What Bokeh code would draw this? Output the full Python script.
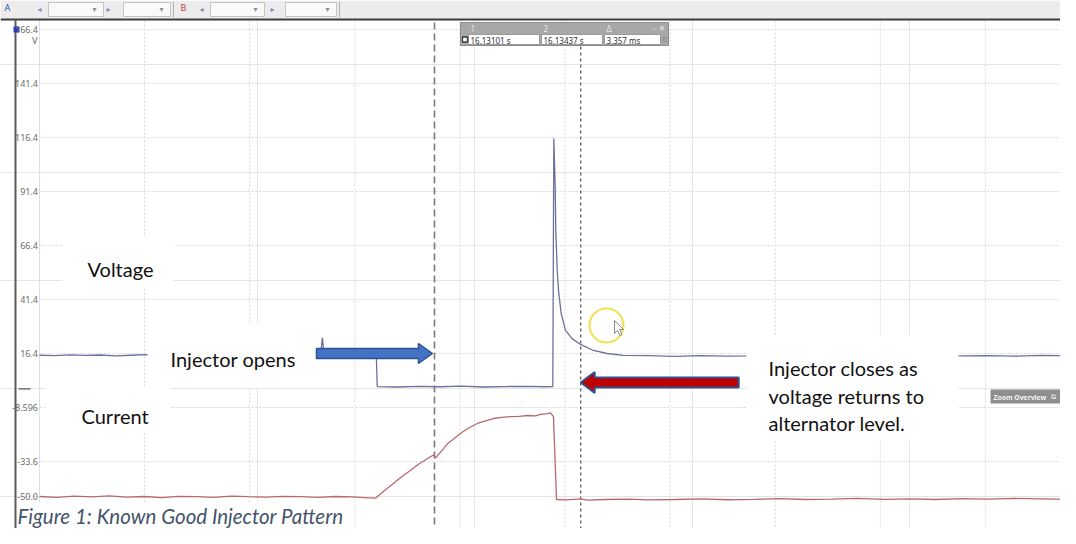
from bokeh.plotting import figure
from bokeh.models import Range1d, Label, ColumnDataSource
from bokeh.core.properties import value
from bokeh.embed import file_html
from bokeh.resources import INLINE

# ---------------- data ----------------
cursor_times_s = [16.13101, 16.13437]
cursor_labels = ["1", "2", "\u0394"]
cursor_texts = ["16.13101 s", "16.13437 s", "3.357 ms"]
grid0_s = 16.121934          # time at first vertical grid line
ms_per_div = 2.415
n_divs = 10

y_tick_values = [166.4, 141.4, 116.4, 91.4, 66.4, 41.4, 16.4, -8.596, -33.6, -50.0]
y_tick_labels = ["166.4", "141.4", "116.4", "91.4", "66.4", "41.4", "16.4", "-8.596", "-33.6", "-50.0"]
grid_y_values = y_tick_values[:-1]
zero_marker = 0.0

voltage_t = [0.00, 0.35, 0.70, 1.05, 1.40, 1.75, 2.10, 2.45, 2.80, 3.15, 3.50, 3.85, 4.20,
             4.55, 4.90, 5.25, 5.60, 5.95, 6.30, 6.46, 6.50, 6.54, 6.70, 7.05, 7.40, 7.74,
             7.76, 8.20, 8.70, 9.20, 9.70, 10.20, 10.70, 11.20, 11.60, 11.795,
             11.818, 11.850, 11.863, 11.896, 11.932, 11.988, 12.086, 12.240, 12.431,
             12.730, 13.045, 13.419, 14.0, 14.6, 15.2, 15.8, 16.4, 17.0, 17.6, 18.2,
             18.8, 19.4, 20.0, 20.6, 21.2, 21.8, 22.4, 23.0, 23.6, 23.9]
voltage_v = [15.6, 15.4, 15.8, 15.5, 15.7, 15.3, 15.6, 15.9, 15.5, 15.4, 15.7, 15.6, 15.3,
             15.7, 15.8, 15.5, 15.6, 15.4, 15.7, 15.6, 23.8, 15.7, 15.5, 15.8, 15.6, 15.5,
             1.1, 0.9, 1.2, 1.0, 1.3, 0.9, 1.1, 1.2, 1.0, 1.1,
             115.9, 93.4, 73.3, 54.8, 44.2, 34.9, 27.1, 23.3, 20.6,
             17.8, 16.4, 15.5, 15.4, 15.1, 15.4, 15.2, 15.3, 15.5, 15.2, 15.3,
             15.4, 15.2, 15.3, 15.5, 15.3, 15.4, 15.2, 15.5, 15.4, 15.3]

current_t = [0.00, 0.40, 0.80, 1.20, 1.60, 2.00, 2.40, 2.80, 3.20, 3.60, 4.00, 4.40, 4.80,
             5.20, 5.60, 6.00, 6.40, 6.80, 7.20, 7.55, 7.72, 7.90, 8.13, 8.30, 8.52, 8.70,
             8.92, 9.05, 9.10, 9.21, 9.38, 9.50, 9.67, 9.85, 10.06, 10.25, 10.43, 10.62,
             10.82, 11.02, 11.21, 11.40, 11.51, 11.67, 11.74, 11.79, 11.81, 11.88, 12.10,
             12.43, 12.60, 13.00, 13.50, 14.00, 14.60, 15.20, 15.80, 16.40, 17.00, 17.60,
             18.20, 18.80, 19.40, 20.00, 20.60, 21.20, 21.80, 22.40, 23.00, 23.60, 23.90]
current_v = [-49.8, -50.2, -49.6, -50.0, -49.5, -50.1, -49.8, -50.3, -49.7, -49.9, -50.2,
             -49.6, -49.9, -50.1, -49.7, -49.9, -50.2, -49.8, -50.0, -50.4, -50.6, -47.5,
             -43.8, -41.0, -37.8, -35.0, -32.2, -30.6, -32.0, -29.4, -25.3, -23.4, -20.6,
             -18.2, -16.0, -14.8, -13.7, -13.2, -12.8, -12.7, -12.3, -12.5, -11.8, -11.4,
             -11.1, -12.3, -12.8, -51.2, -51.4, -50.9, -51.5, -51.2, -51.0, -51.4, -51.2,
             -50.9, -51.3, -51.1, -50.8, -51.2, -51.0, -50.7, -51.1, -50.9, -51.2, -50.8,
             -51.0, -50.7, -50.9, -51.1, -50.8]

# ---------------- layout helpers ----------------
W, H = 1060, 528
PX_PER_MS = 105.1 / ms_per_div
PX_PER_V = 54.0 / (y_tick_values[0] - y_tick_values[1])
OX, OY = 0, 0  # picture offset of the figure


def rx(px):
    return (px - 39.0) / PX_PER_MS


def ry(py):
    return y_tick_values[0] - (py - 29.0) / PX_PER_V


p = figure(width=W, height=H, output_backend="svg", toolbar_location=None,
           x_range=Range1d(rx(OX), rx(OX + W)), y_range=Range1d(ry(OY + H), ry(OY)),
           x_axis_location=None, y_axis_location=None, min_border=0)
p.outline_line_color = None
p.background_fill_color = "white"
p.border_fill_color = "white"

# grid
grid_x = [k * ms_per_div for k in range(n_divs)]
p.segment(x0=grid_x, y0=[ry(20)] * len(grid_x), x1=grid_x, y1=[ry(544)] * len(grid_x),
          line_color="#d6d6d6", line_width=1, line_dash="2 2")
p.segment(x0=[0.0] * len(grid_y_values), y0=grid_y_values,
          x1=[rx(1076)] * len(grid_y_values), y1=grid_y_values,
          line_color="#d6d6d6", line_width=1, line_dash="2 2")

# cursors
cursor_t = [(c - grid0_s) * 1000.0 for c in cursor_times_s]
p.segment(x0=[cursor_t[0]], y0=[ry(22)], x1=[cursor_t[0]], y1=[ry(544)],
          line_color="#7a7a7a", line_width=1.6, line_dash="7 4")
p.segment(x0=[cursor_t[1]], y0=[ry(46)], x1=[cursor_t[1]], y1=[ry(544)],
          line_color="#5e5e5e", line_width=1.3, line_dash="3 3")

# traces
p.line(current_t, current_v, line_color="#b8686c", line_width=1.3)
p.line(voltage_t, voltage_v, line_color="#6d6f9f", line_width=1.3)

# white text boxes
boxes = [(62, 173, 236, 287), (147, 316, 323, 387), (45, 170, 387, 432),
         (746, 958, 335, 440), (16, 352, 502, 531)]
p.quad(left=[rx(b[0]) for b in boxes], right=[rx(b[1]) for b in boxes],
       top=[ry(b[2]) for b in boxes], bottom=[ry(b[3]) for b in boxes],
       fill_color="white", line_color=None)

# left border, top toolbar
p.quad(left=[rx(0)], right=[rx(1076)], top=[ry(0)], bottom=[ry(18)],
       fill_color="#ececec", line_color=None)
p.segment(x0=[rx(0)], y0=[ry(19)], x1=[rx(1076)], y1=[ry(19)],
          line_color="#3c3c3c", line_width=2)
p.segment(x0=[rx(15)], y0=[ry(19)], x1=[rx(15)], y1=[ry(544)],
          line_color="#5a5a5a", line_width=2)
drops = [(48, 103), (123, 170), (210, 264), (285, 336)]
p.quad(left=[rx(d[0]) for d in drops], right=[rx(d[1]) for d in drops],
       top=[ry(2)] * 4, bottom=[ry(16)] * 4, fill_color="#f9f9f9", line_color="#c4c4c4")
p.segment(x0=[rx(173), rx(339)], y0=[ry(1)] * 2, x1=[rx(173), rx(339)], y1=[ry(17)] * 2,
          line_color="#b0b0b0", line_width=1)

# channel marker
p.quad(left=[rx(13)], right=[rx(19)], top=[ry(26)], bottom=[ry(32)],
       fill_color="#2a3fc4", line_color=None)

# tick labels
src = ColumnDataSource(dict(x=[rx(37.5)] * len(y_tick_values), y=y_tick_values, t=y_tick_labels))
p.text(x="x", y="y", text="t", source=src, text_align="right", text_baseline="middle",
       text_font=value("Noto Sans"), text_font_size="9px", text_color="#6a6a6a")
p.add_layout(Label(x=rx(37), y=ry(40), text="V", text_align="right", text_baseline="middle",
                   text_font="Noto Sans", text_font_size="9px", text_color="#6a6a6a"))
p.segment(x0=[rx(18)], y0=[zero_marker], x1=[rx(30)], y1=[zero_marker],
          line_color="#555555", line_width=1.2)

# arrows
def block_arrow(tip_x, tip_y, direction, shaft_len, shaft_h, head_len, head_h):
    s = direction / PX_PER_MS
    v = 1.0 / PX_PER_V
    xs = [tip_x, tip_x - s * head_len, tip_x - s * head_len, tip_x - s * (head_len + shaft_len),
          tip_x - s * (head_len + shaft_len), tip_x - s * head_len, tip_x - s * head_len]
    ys = [tip_y, tip_y + v * head_h, tip_y + v * shaft_h, tip_y + v * shaft_h,
          tip_y - v * shaft_h, tip_y - v * shaft_h, tip_y - v * head_h]
    return xs, ys


bx, by = block_arrow(cursor_t[0] - 2 / PX_PER_MS, y_tick_values[6], 1, 102, 5, 14, 10)
p.patch(bx, by, fill_color="#4472c4", line_color="#2f528f", line_width=1.5)
rxs, rys = block_arrow(cursor_t[1], ry(382), -1, 144, 5, 14, 10.5)
p.patch(rxs, rys, fill_color="#c00000", line_color="#2f528f", line_width=2)

# mouse highlight
p.scatter(x=[rx(606)], y=[ry(325)], size=34, marker="circle", fill_color=None,
          line_color="#f0e35a", line_width=2.2)
ptr = [(614, 320), (614, 333), (617, 330), (619.5, 335), (621.5, 334), (619, 329), (623, 329)]
p.patch([rx(a) for a, b in ptr], [ry(b) for a, b in ptr], fill_color="white",
        line_color="#8a8a8a", line_width=1)

# zoom overview tab
p.quad(left=[rx(990)], right=[rx(1076)], top=[ry(389)], bottom=[ry(403)],
       fill_color="#8e8e8e", line_color=None)
p.add_layout(Label(x=rx(993), y=ry(396.5), text="Zoom Overview", text_baseline="middle",
                   text_font="Noto Sans", text_font_size="6.8px", text_font_style="bold",
                   text_color="#f4f4f4"))
p.add_layout(Label(x=rx(1050), y=ry(396.5), text="\u29c9", text_baseline="middle",
                   text_font="DejaVu Sans", text_font_size="7px", text_color="#f4f4f4"))

# cursor readout box
p.quad(left=[rx(460)], right=[rx(668)], top=[ry(22)], bottom=[ry(45)],
       fill_color="#a8a8a8", line_color="#8c8c8c")
cells = [(468, 539), (541, 602), (604, 660)]
p.quad(left=[rx(c[0]) for c in cells], right=[rx(c[1]) for c in cells],
       top=[ry(34)] * 3, bottom=[ry(44)] * 3, fill_color="white", line_color="#9a9a9a")
p.quad(left=[rx(462)], right=[rx(467)], top=[ry(36.5)], bottom=[ry(41.5)],
       fill_color="white", line_color="#3a3a3a", line_width=1.3)
for (c0, c1), lab, txt in zip(cells, cursor_labels, cursor_texts):
    p.add_layout(Label(x=rx(c0 + 2), y=ry(28), text=lab, text_baseline="middle",
                       text_font="Noto Sans", text_font_size="8px", text_color="#e6e6e6"))
    p.add_layout(Label(x=rx(c0 + 2), y=ry(39.5), text=txt, text_baseline="middle",
                       text_font="Noto Sans", text_font_size="8px", text_color="#333333"))
p.add_layout(Label(x=rx(652), y=ry(28), text="\u2013  \u2715", text_baseline="middle",
                   text_font="DejaVu Sans", text_font_size="7.5px", text_color="#f0f0f0"))
p.add_layout(Label(x=rx(662), y=ry(39.5), text="\u0431", text_baseline="middle",
                   text_font="DejaVu Sans", text_font_size="7px", text_color="#888888"))

# toolbar glyphs
for px_, t_, col in [(4, "A", "#3050c0"), (180, "B", "#c04040")]:
    p.add_layout(Label(x=rx(px_), y=ry(13), text=t_, text_font="Noto Sans",
                       text_font_size="9px", text_color=col))
for px_ in [37, 106, 199, 270]:
    p.add_layout(Label(x=rx(px_), y=ry(13), text="\u25c2" if px_ in (37, 199) else "\u25b8",
                       text_font="DejaVu Sans", text_font_size="8px", text_color="#8090b0"))
for d in drops:
    p.add_layout(Label(x=rx(d[1] - 11), y=ry(13), text="\u25be", text_font="DejaVu Sans",
                       text_font_size="8px", text_color="#909090"))

# annotation texts
FONT = "Lato"
ann = [(87, 268, "Voltage"), (170, 358, "Injector opens"), (81, 415, "Current"),
       (768, 367, "Injector closes as"), (768, 395, "voltage returns to"),
       (768, 422, "alternator level.")]
for px_, py_, txt in ann:
    p.add_layout(Label(x=rx(px_), y=ry(py_), text=txt, text_baseline="alphabetic",
                       text_font=FONT, text_font_size="20px", text_color="#111111"))
p.add_layout(Label(x=rx(17), y=ry(515), text="Figure 1: Known Good Injector Pattern",
                   text_baseline="alphabetic", text_font=FONT, text_font_size="20.5px",
                   text_font_style="italic", text_color="#44546a"))

open("out.html", "w").write(file_html(p, INLINE))
